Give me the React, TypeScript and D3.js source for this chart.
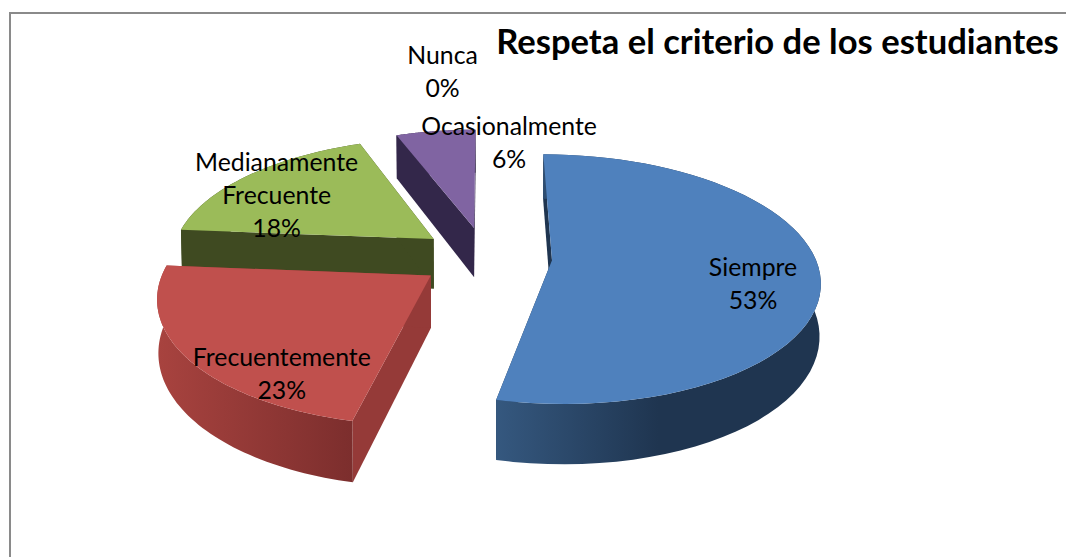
import React from "react";
import * as d3 from "d3";

const categories = ["Siempre", "Frecuentemente", "Medianamente Frecuente", "Ocasionalmente", "Nunca"];
const values = [53.49, 22.8, 17.96, 5.75, 0];
const labelLines = [["Siempre"], ["Frecuentemente"], ["Medianamente", "Frecuente"], ["Ocasionalmente"], ["Nunca"]];
const topColors = ["#4f81bd", "#c0504d", "#9bbb59", "#8064a2", "#4bacc6"];
const cutColors = ["#1f3550", "#953a38", "#3f4a21", "#33274a", "#1f3550"];
const wallStops = [
  [["#35587f", 0], ["#1f3550", 0.5], ["#1f3550", 1]],
  [["#a8433f", 0], ["#7c2e2d", 1]],
  [["#3f4a21", 0], ["#3f4a21", 1]],
  [["#33274a", 0], ["#33274a", 1]],
  [["#1f3550", 0], ["#1f3550", 1]],
] as [string, number][][];
const labelOffsets = [[201, 23], [-149, 97], [-157, -44], [35, -86], [-43, -157]];
const title = "Respeta el criterio de los estudiantes";

const W = 1066, H = 557;
const CX = 485.6, CY = 257, RX = 263, RY = 121, PERSP = 0.15, DEPTH = 51, EXPLODE = 0.253, BOTTOM_SHRINK = 0.004;
const FONT = "Lato, Carlito, sans-serif";

const sx = d3.scaleLinear().domain([-1, 1]).range([CX - RX, CX + RX]);
const sy = d3.scaleLinear().domain([-1, 1]).range([CY - RY, CY + RY]);

function project(X: number, Y: number, z: number): [number, number] {
  const w = 1 / (1 - PERSP * Y);
  const xw = X * w * (1 - (z ? BOTTOM_SHRINK : 0));
  return [sx(xw), sy(Y * w) + z * DEPTH * w];
}

const arcs = d3.pie<number>().sort(null)(values);
const line = d3.line();

export default function App() {
  const slices = arcs.map((a, i) => {
    const mid = (a.startAngle + a.endAngle) / 2;
    const ox = EXPLODE * Math.sin(mid), oy = -EXPLODE * Math.cos(mid);
    const thetas = d3.range(0, 61).map((k) => a.startAngle + ((a.endAngle - a.startAngle) * k) / 60);
    const rim = (z: number) => thetas.map((t) => project(ox + Math.sin(t), oy - Math.cos(t), z));
    const apex = (z: number) => project(ox, oy, z);
    const topRim = rim(0), botRim = rim(1);
    const topPath = line([apex(0), ...topRim])! + "Z";
    const wall = line([...topRim, ...[...botRim].reverse()])! + "Z";
    const cutA = line([apex(0), topRim[0], botRim[0], apex(1)])! + "Z";
    const cutB = line([apex(0), topRim[60], botRim[60], apex(1)])! + "Z";
    const xs = [...topRim, ...botRim].map((p) => p[0]);
    return { i, topPath, wall, cutA, cutB, apex: apex(0), x0: d3.min(xs)!, x1: d3.max(xs)! };
  });
  const order = [3, 2, 1, 0, 4];
  return (
    <svg width={W} height={H} style={{ position: "fixed", left: 0, top: 0, background: "#fff" }}>
      <defs>
        {slices.map((s) => (
          <linearGradient key={s.i} id={`wall${s.i}`} gradientUnits="userSpaceOnUse" x1={s.x0} x2={s.x1} y1={0} y2={0}>
            {wallStops[s.i].map(([c, o], k) => (
              <stop key={k} offset={o} stopColor={c} />
            ))}
          </linearGradient>
        ))}
      </defs>
      <path d={`M10 ${H}V13H${W}`} fill="none" stroke="#8a8a8a" strokeWidth={2} />
      {order.filter((i) => values[i] > 0).map((i) => {
        const s = slices[i];
        return (
          <g key={i}>
            <path d={s.cutA} fill={cutColors[i]} />
            <path d={s.cutB} fill={cutColors[i]} />
            <path d={s.wall} fill={`url(#wall${i})`} />
            <path d={s.topPath} fill={topColors[i]} />
          </g>
        );
      })}
      {slices.map((s) => {
        const lines = [...labelLines[s.i], `${Math.round(values[s.i])}%`];
        const cx = s.apex[0] + labelOffsets[s.i][0];
        const cy = s.apex[1] + labelOffsets[s.i][1];
        return (
          <text key={s.i} textAnchor="middle" fontFamily={FONT} fontSize={24.8} fill="#000" aria-label={categories[s.i]}>
            {lines.map((l, k) => (
              <tspan key={k} x={cx} y={cy + (k - (lines.length - 1) / 2) * 33 + 9.5}>{l}</tspan>
            ))}
          </text>
        );
      })}
      <text x={777.5} y={54} textAnchor="middle" fontFamily={FONT} fontWeight={700} fontSize={34.6} fill="#000">{title}</text>
    </svg>
  );
}
